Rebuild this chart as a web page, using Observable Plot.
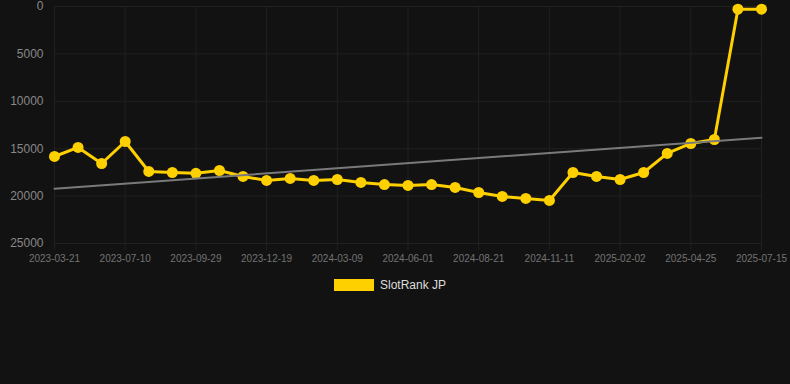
<!DOCTYPE html>
<html><head><meta charset="utf-8">
<script src="https://cdn.jsdelivr.net/npm/d3@7"></script>
<script src="https://cdn.jsdelivr.net/npm/@observablehq/plot@0.6"></script>
<style>
html,body{margin:0;padding:0;background:#121212;}
#chart{width:790px;}
#chart svg{display:block;}
.legend{display:flex;justify-content:center;align-items:center;gap:6px;font:12px "Liberation Sans",Arial,sans-serif;color:#dddddd;margin-top:8px;padding-right:10px}
.swatch{width:40px;height:12px;background:#ffd000}
</style></head><body><div id="chart"></div>
<script>
const dates = [
  "2023-03-21","2023-04-27","2023-06-03","2023-07-10","2023-08-06","2023-09-02",
  "2023-09-29","2023-10-26","2023-11-22","2023-12-19","2024-01-15","2024-02-11",
  "2024-03-09","2024-04-06","2024-05-04","2024-06-01","2024-06-28","2024-07-25",
  "2024-08-21","2024-09-17","2024-10-14","2024-11-11","2024-12-08","2025-01-05",
  "2025-02-02","2025-03-01","2025-03-28","2025-04-25","2025-05-22","2025-06-18",
  "2025-07-15"
];
const ranks = [
  15820,14870,16560,14240,17400,17510,
  17600,17300,17930,18350,18140,18350,
  18250,18560,18780,18880,18780,19090,
  19620,20040,20250,20460,17510,17930,
  18250,17510,15500,14450,14030,280,
  280
];
const yTicks = [0,5000,10000,15000,20000,25000];
const seriesName = "SlotRank JP";

const data = dates.map((d,i)=>({i, date:d, rank:ranks[i]}));
const xTickIdx = dates.map((d,i)=>i).filter(i=>i%3===0);
const gridColor = "#202020";

const chart = Plot.plot({
  width:790, height:270,
  marginTop:6, marginLeft:54, marginRight:29, marginBottom:27,
  style:{background:"#121212", fontFamily:"'Liberation Sans', Arial, sans-serif"},
  x:{type:"linear", domain:[0,dates.length-1]},
  y:{domain:[0,25000], reverse:true},
  marks:[
    Plot.gridY(yTicks,{stroke:gridColor, strokeOpacity:1}),
    Plot.gridX(xTickIdx,{stroke:gridColor, strokeOpacity:1}),
    Plot.axisX(xTickIdx,{tickFormat:i=>dates[i], tickSize:7, tickPadding:4, stroke:gridColor, strokeOpacity:1, fill:"#737373", fontSize:10, label:null}),
    Plot.axisY(yTicks,{tickFormat:d=>String(d), tickSize:0, tickPadding:11, fill:"#888888", fontSize:12, label:null}),
    Plot.line(data,{x:"i", y:"rank", stroke:"#ffd000", strokeWidth:3}),
    Plot.dot(data,{x:"i", y:"rank", r:5.5, fill:"#ffd000", stroke:"none"}),
    Plot.linearRegressionY(data,{x:"i", y:"rank", stroke:"#7a7a7a", strokeWidth:2, ci:0})
  ]
});
document.getElementById("chart").appendChild(chart);
const lg = document.createElement("div");
lg.className = "legend";
lg.innerHTML = '<span class="swatch"></span><span></span>';
lg.lastChild.textContent = seriesName;
document.getElementById("chart").appendChild(lg);
</script>
</body></html>
